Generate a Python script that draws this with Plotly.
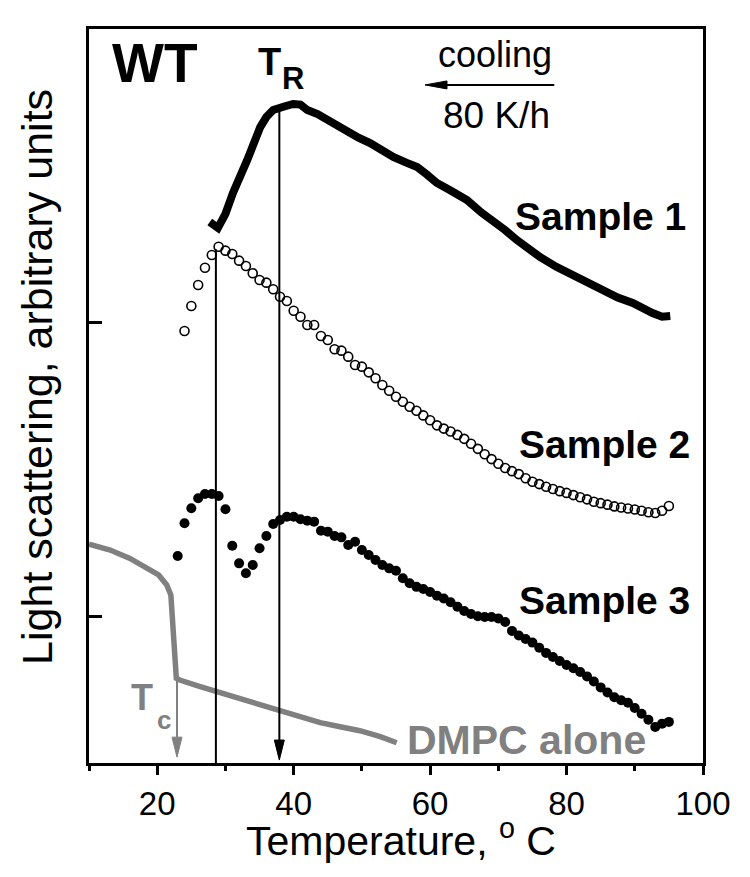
import plotly.graph_objects as go

FONT = "Liberation Sans, Arial, Helvetica, sans-serif"
GRAY = "#808080"

# ---------------- data ----------------
# Sample 1 (thick solid line)
s1_temp = [27.7, 28.9, 30.0, 31.1, 33.2, 35.1, 36.0, 37.0, 38.5, 39.9, 41.0, 42.0,
           43.5, 44.9, 46.5, 48.3, 49.5, 51.2, 53.0, 54.6, 56.5, 58.1, 59.5, 61.0,
           63.0, 65.4, 67.5, 69.8, 71.0, 72.7, 74.5, 76.1, 78.5, 81.5, 83.5, 85.9,
           87.5, 89.7, 91.0, 92.6, 94.0, 95.2]
s1_signal = [3.685, 3.645, 3.74, 3.883, 4.108, 4.332, 4.40, 4.448, 4.47, 4.489, 4.485, 4.448,
             4.42, 4.380, 4.34, 4.292, 4.26, 4.223, 4.17, 4.128, 4.09, 4.060, 4.01, 3.951,
             3.90, 3.835, 3.75, 3.678, 3.63, 3.563, 3.50, 3.447, 3.38, 3.311, 3.26, 3.202,
             3.17, 3.134, 3.10, 3.065, 3.04, 3.045]

# Sample 2 (open circles)
s2_temp = list(range(24, 96))
s2_signal = [2.943, 3.113, 3.256, 3.374, 3.460, 3.517, 3.490, 3.467, 3.422, 3.386,
             3.336, 3.290, 3.272, 3.227, 3.176, 3.147, 3.081, 3.040, 2.984, 2.984,
             2.909, 2.881, 2.818, 2.809, 2.768, 2.711, 2.700, 2.661, 2.621, 2.575,
             2.536, 2.495, 2.461, 2.427, 2.400, 2.368, 2.335, 2.300, 2.278, 2.258,
             2.235, 2.208, 2.175, 2.140, 2.103, 2.070, 2.038, 2.010, 1.988, 1.968,
             1.940, 1.916, 1.900, 1.882, 1.866, 1.852, 1.840, 1.825, 1.810, 1.796,
             1.780, 1.770, 1.760, 1.748, 1.740, 1.734, 1.727, 1.718, 1.708, 1.703,
             1.718, 1.751]

# Sample 3 (filled circles)
s3_temp = list(range(23, 96))
s3_signal = [1.410, 1.633, 1.735, 1.803, 1.832, 1.832, 1.819, 1.728, 1.480, 1.360,
             1.292, 1.349, 1.463, 1.546, 1.628, 1.655, 1.678, 1.678, 1.660, 1.651,
             1.644, 1.582, 1.576, 1.546, 1.537, 1.485, 1.507, 1.451, 1.417, 1.383,
             1.349, 1.326, 1.310, 1.258, 1.224, 1.200, 1.185, 1.165, 1.140, 1.120,
             1.095, 1.065, 1.035, 1.015, 1.000, 0.995, 0.995, 0.985, 0.960, 0.900,
             0.868, 0.845, 0.820, 0.785, 0.750, 0.722, 0.695, 0.668, 0.645, 0.620,
             0.590, 0.555, 0.515, 0.480, 0.448, 0.428, 0.410, 0.375, 0.335, 0.295,
             0.245, 0.268, 0.280]

# DMPC alone (gray line)
dmpc_temp = [10.0, 13.1, 16.0, 18.5, 20.2, 21.4, 22.0, 22.8, 23.3, 26.3, 29.2, 32.1,
             35.1, 38.0, 40.9, 43.9, 46.8, 49.7, 52.7, 55.1]
dmpc_signal = [1.490, 1.451, 1.394, 1.326, 1.281, 1.213, 1.144, 0.577, 0.565, 0.520,
               0.479, 0.441, 0.395, 0.361, 0.311, 0.275, 0.247, 0.220, 0.179, 0.138]

# marker temperatures
T_PEAK2 = 28.6   # vertical line through Sample 2 maximum
T_R = 37.9       # T_R arrow
T_C = 22.9       # DMPC T_c arrow

x_tickvals = [20, 40, 60, 80, 100]
x_ticktext = ["20", "40", "60", "80", "100"]
y_tickvals = [1, 3]

# ---------------- figure ----------------
fig = go.Figure()

fig.add_trace(go.Scatter(x=dmpc_temp, y=dmpc_signal, mode="lines",
                         line=dict(color=GRAY, width=5.5), hoverinfo="skip"))
fig.add_trace(go.Scatter(x=s3_temp, y=s3_signal, mode="markers",
                         marker=dict(symbol="circle", size=10, color="black"),
                         hoverinfo="skip"))
fig.add_trace(go.Scatter(x=s2_temp, y=s2_signal, mode="markers",
                         marker=dict(symbol="circle-open", size=9, color="black",
                                     line=dict(width=1.6, color="black")),
                         hoverinfo="skip"))
fig.add_trace(go.Scatter(x=s1_temp, y=s1_signal, mode="lines",
                         line=dict(color="black", width=8), hoverinfo="skip"))

# px -> data helpers (plot area: 614 px for 90 degC, 734 px for 5 units)
px_x = 90 / 614.0
px_y = 5.0 / 734.0

shapes = []
# vertical line through Sample 2 peak
shapes.append(dict(type="line", x0=T_PEAK2, x1=T_PEAK2, y0=3.50, y1=0,
                   line=dict(color="black", width=2)))
# T_R arrow
head_len = 20 * px_y
half_w = 5 * px_x
tip = 0.02
shapes.append(dict(type="line", x0=T_R, x1=T_R, y0=4.45, y1=tip + head_len,
                   line=dict(color="black", width=2)))
shapes.append(dict(type="path",
                   path=f"M {T_R - half_w},{tip + head_len} L {T_R + half_w},{tip + head_len} L {T_R},{tip} Z",
                   fillcolor="black", line=dict(color="black", width=1)))
# T_c arrow (gray)
tip_c = 0.04
shapes.append(dict(type="line", x0=T_C, x1=T_C, y0=0.565, y1=tip_c + head_len,
                   line=dict(color=GRAY, width=2)))
shapes.append(dict(type="path",
                   path=f"M {T_C - half_w},{tip_c + head_len} L {T_C + half_w},{tip_c + head_len} L {T_C},{tip_c} Z",
                   fillcolor=GRAY, line=dict(color=GRAY, width=1)))
# cooling arrow
cool_y = 4.619
cool_x0, cool_x1 = 78.2, 59.25
c_head = 22 * px_x
c_half = 4 * px_y
shapes.append(dict(type="line", x0=cool_x0, x1=cool_x1 + c_head, y0=cool_y, y1=cool_y,
                   line=dict(color="black", width=2)))
shapes.append(dict(type="path",
                   path=f"M {cool_x1 + c_head},{cool_y - c_half} L {cool_x1 + c_head},{cool_y + c_half} L {cool_x1},{cool_y} Z",
                   fillcolor="black", line=dict(color="black", width=1)))

def txt(x, y, s, size, bold=False, color="black", xanchor="center", **kw):
    return dict(x=x, y=y, text=(f"<b>{s}</b>" if bold else s), showarrow=False,
                xanchor=xanchor, yanchor="middle",
                font=dict(family=FONT, size=size, color=color), **kw)

annotations = [
    txt(19.67, 4.768, "WT", 55, bold=True),
    txt(36.5, 4.775, "T", 38, bold=True),
    txt(39.9, 4.666, "R", 31, bold=True),
    txt(69.5, 4.823, "cooling", 36),
    txt(69.8, 4.414, "80 K/h", 37),
    txt(97.8, 3.723, "Sample 1", 39, bold=True, xanchor="right"),
    txt(98.4, 2.173, "Sample 2", 39, bold=True, xanchor="right"),
    txt(98.4, 1.104, "Sample 3", 39, bold=True, xanchor="right"),
    txt(56.3, 0.157, "DMPC alone", 41, bold=True, color=GRAY, xanchor="left"),
    txt(17.77, 0.443, "T", 36, bold=True, color=GRAY),
    txt(21.0, 0.293, "c", 26, bold=True, color=GRAY),
    dict(x=-0.0847, y=0.526, xref="paper", yref="paper", textangle=-90,
         text="Light scattering, arbitrary units", showarrow=False,
         xanchor="center", yanchor="middle",
         font=dict(family=FONT, size=43, color="black")),
    dict(x=0.508, y=-0.102, xref="paper", yref="paper",
         text="Temperature, <sup>o</sup> C", showarrow=False,
         xanchor="center", yanchor="middle",
         font=dict(family=FONT, size=41, color="black")),
]

# the page body has an 8 px margin, so the figure is offset by (8, 8)
fig.update_layout(
    width=750, height=877,
    margin=dict(l=81, r=55, t=21, b=122),
    paper_bgcolor="white", plot_bgcolor="white",
    showlegend=False,
    shapes=shapes,
    annotations=annotations,
    font=dict(family=FONT, color="black"),
)

fig.update_xaxes(range=[10, 100], showline=True, linecolor="black", linewidth=2.5,
                 mirror=True, showgrid=False, zeroline=False,
                 tickmode="array", tickvals=x_tickvals, ticktext=x_ticktext,
                 ticks="outside", ticklen=9, tickwidth=2.5, tickcolor="black",
                 tickfont=dict(family=FONT, size=33, color="black"),
                 ticklabelstandoff=1,
                 minor=dict(tickmode="array", tickvals=[10, 30, 50, 70, 90],
                            ticks="outside", ticklen=5, tickwidth=2.5, tickcolor="black"))
fig.update_yaxes(range=[0, 5.0], showline=True, linecolor="black", linewidth=2.5,
                 mirror=True, showgrid=False, zeroline=False,
                 tickmode="array", tickvals=y_tickvals, ticks="inside", ticklen=13,
                 tickwidth=2.5, tickcolor="black", showticklabels=False)

fig.write_html("out.html")
